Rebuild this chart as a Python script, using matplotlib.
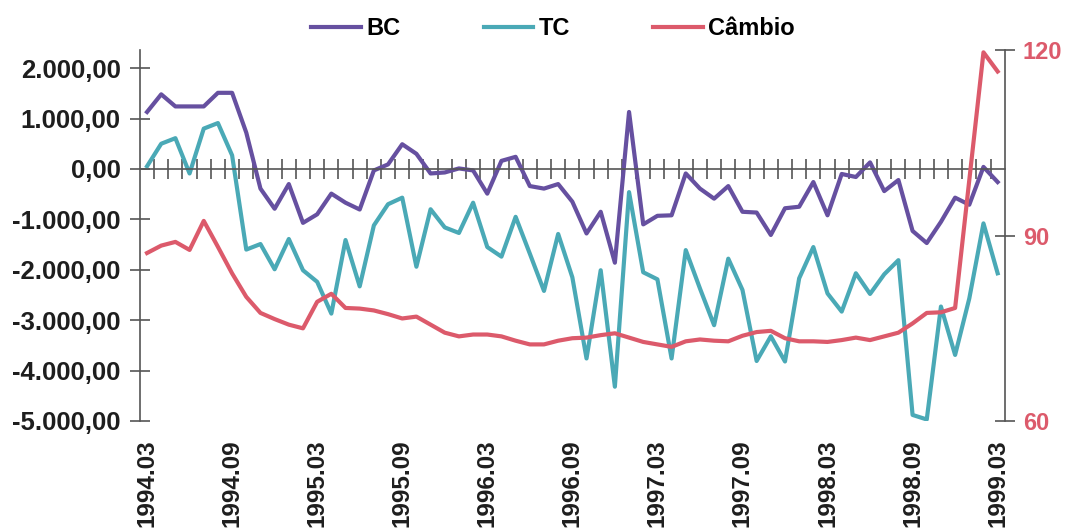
import matplotlib
matplotlib.use("Agg")
import matplotlib.pyplot as plt
from matplotlib.ticker import FuncFormatter
import pandas as pd

# meses de 1994.03 a 1999.03
meses = pd.period_range("1994-03", "1999-03", freq="M").strftime("%Y.%m").tolist()

bc = [1130, 1480, 1240, 1240, 1240, 1510, 1510, 720, -390, -790,
      -300, -1070, -900, -490, -670, -805, -30, 90, 490, 300,
      -90, -70, 10, -30, -490, 160, 240, -340, -390, -300,
      -650, -1280, -850, -1860, 1130, -1100, -930, -920, -90, -390,
      -590, -340, -850, -865, -1310, -780, -750, -260, -920, -100,
      -160, 130, -440, -220, -1230, -1470, -1050, -570, -710, 40,
      -260]

tc = [53, 500, 610, -90, 800, 910, 270, -1600, -1490, -1990,
      -1390, -2010, -2240, -2870, -1410, -2330, -1120, -700, -570, -1940,
      -800, -1160, -1270, -670, -1550, -1740, -950, -1680, -2420, -1290,
      -2150, -3760, -2010, -4320, -460, -2050, -2190, -3760, -1610, -2370,
      -3100, -1780, -2400, -3810, -3320, -3820, -2170, -1550, -2470, -2830,
      -2070, -2480, -2090, -1810, -4880, -4970, -2730, -3690, -2570, -1080,
      -2070]

cambio = [87.2, 88.4, 89.0, 87.7, 92.4, 88.2, 83.9, 80.1, 77.5, 76.5,
          75.6, 75.0, 79.3, 80.6, 78.3, 78.2, 77.9, 77.3, 76.6, 76.9,
          75.6, 74.3, 73.7, 74.0, 74.0, 73.7, 73.0, 72.4, 72.4, 73.0,
          73.4, 73.5, 73.9, 74.2, 73.5, 72.8, 72.4, 72.0, 72.9, 73.2,
          73.0, 72.9, 73.8, 74.4, 74.6, 73.4, 72.9, 72.9, 72.8, 73.1,
          73.5, 73.1, 73.7, 74.3, 75.8, 77.5, 77.6, 78.3, 99.0, 119.7,
          116.6]

rotulos_x = ["1994.03", "1994.09", "1995.03", "1995.09", "1996.03", "1996.09",
             "1997.03", "1997.09", "1998.03", "1998.09", "1999.03"]
ticks_esq = [-5000, -4000, -3000, -2000, -1000, 0, 1000, 2000]
ticks_dir = [60, 90, 120]

cor_bc = "#6650a0"
cor_tc = "#4aa9b6"
cor_cambio = "#dc5a6b"
cor_eixo = "#555555"
cor_texto = "#1e1e1e"

plt.rcParams["font.family"] = ["Liberation Sans", "DejaVu Sans"]
plt.rcParams["font.weight"] = "bold"
fs = 17


def fmt_br(v, pos=None):
    s = f"{v:,.2f}"
    return s.replace(",", "X").replace(".", ",").replace("X", ".")


fig = plt.figure(figsize=(10.7, 5.28), dpi=100)
ax = fig.add_axes([0.1308, 0.2027, 0.8082, 0.7017])
ax2 = ax.twinx()

x = list(range(len(meses)))
l1, = ax.plot(x, bc, color=cor_bc, lw=3, label="BC")
l2, = ax.plot(x, tc, color=cor_tc, lw=3, label="TC")
l3, = ax2.plot(x, cambio, color=cor_cambio, lw=3, label="Câmbio")

ax.set_xlim(-0.5, len(meses) - 0.5)
ax.set_ylim(-5000, 2350)
ax2.set_ylim(60, 120)

# eixo de categorias cruzando no zero, com marcas entre os meses
for a in (ax, ax2):
    a.spines["top"].set_visible(False)
ax.spines["right"].set_visible(False)
ax2.spines["left"].set_visible(False)
ax2.spines["bottom"].set_visible(False)
ax.spines["bottom"].set_position(("data", 0))
ax.spines["bottom"].set_color(cor_eixo)
ax.spines["bottom"].set_linewidth(1.2)
ax.spines["left"].set_color(cor_eixo)
ax.spines["left"].set_linewidth(1.2)
ax2.spines["right"].set_color(cor_eixo)
ax2.spines["right"].set_linewidth(1.2)

ax.set_xticks([i + 0.5 for i in x[:-1]], minor=True)
ax.set_xticks([])
ax.tick_params(axis="x", which="minor", direction="inout", length=14,
               width=1.2, color=cor_eixo)

# rótulos de data na base do gráfico
sec = ax.secondary_xaxis("bottom")
sec.spines["bottom"].set_visible(False)
sec.set_xticks(x[::6], rotulos_x)
sec.tick_params(axis="x", length=0, pad=13, labelsize=17.5, labelcolor=cor_texto,
                labelrotation=90)

ax.set_yticks(ticks_esq)
ax.yaxis.set_major_formatter(FuncFormatter(fmt_br))
ax.tick_params(axis="y", direction="inout", length=14, width=1.2, color=cor_eixo,
               labelsize=18.5, labelcolor=cor_texto, pad=7)

ax2.set_yticks(ticks_dir)
ax2.tick_params(axis="y", direction="inout", length=14, width=1.2, color=cor_eixo,
                labelsize=fs, labelcolor=cor_cambio, pad=6)

fig.legend(handles=[l1, l2, l3], loc="center", bbox_to_anchor=(0.517, 0.946),
           ncol=3, frameon=False, fontsize=fs, handlelength=2.1,
           handletextpad=0.25, columnspacing=3.5)

fig.savefig("out.png", dpi=100)
